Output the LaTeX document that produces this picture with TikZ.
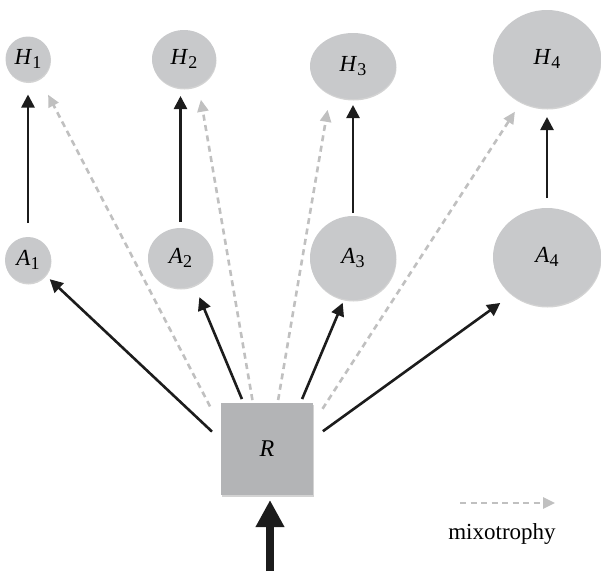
\documentclass[tikz,border=0pt]{standalone}
\usepackage{fontspec}
\setmainfont{Liberation Serif}
\usetikzlibrary{arrows.meta,shapes.geometric,shadows}
\definecolor{nodegray}{RGB}{200,201,203}
\definecolor{boxgray}{RGB}{179,180,182}
\definecolor{dashgray}{RGB}{192,192,192}
\definecolor{arrowdark}{RGB}{28,28,28}
\newcommand{\lbl}[2]{\textit{#1}\raisebox{-4.5pt}{\fontsize{18}{18}\selectfont #2}}
\begin{document}
\begin{tikzpicture}[x=1pt,y=-1pt,
  org/.style={ellipse, fill=nodegray, inner sep=0pt, outer sep=0pt,
    drop shadow={opacity=0.35, shadow xshift=0.5pt, shadow yshift=-1.5pt},
    font=\fontsize{23}{23}\selectfont},
  resbox/.style={rectangle, fill=boxgray, inner sep=0pt, outer sep=0pt,
    minimum size=92pt,
    drop shadow={opacity=0.35, shadow xshift=0.5pt, shadow yshift=-1.5pt},
    font=\fontsize{24}{24}\selectfont},
  feed/.style={draw=arrowdark, line width=2.6pt,
    -{Triangle[length=13pt,width=13pt]}},
  mixo/.style={draw=dashgray, line width=2.6pt, dash pattern=on 6pt off 4.5pt,
    -{Triangle[length=12pt,width=11pt,fill=dashgray]}},
  bigarrow/.style={draw=arrowdark, line width=8pt,
    -{Triangle[length=27pt,width=27pt]}}
]
\useasboundingbox (0,0) rectangle (601,571);

% nodes
\node[org, minimum width=45pt, minimum height=45pt] (H1) at (28,59) {\lbl{H}{1}};
\node[org, minimum width=64pt, minimum height=58pt] (H2) at (184,59) {\lbl{H}{2}};
\node[org, minimum width=86pt, minimum height=66pt] (H3) at (353,66) {\lbl{H}{3}};
\node[org, minimum width=108pt, minimum height=98pt] (H4) at (547,59) {\lbl{H}{4}};
\node[org, minimum width=46pt, minimum height=46pt] (A1) at (28,260) {\lbl{A}{1}};
\node[org, minimum width=65pt, minimum height=60pt] (A2) at (180.5,258) {\lbl{A}{2}};
\node[org, minimum width=86pt, minimum height=84pt] (A3) at (353,258) {\lbl{A}{3}};
\node[org, minimum width=108pt, minimum height=98pt] (A4) at (547,257) {\lbl{A}{4}};
\node[resbox] (R) at (267,449) {\textit{R}};

% grazing arrows
\draw[feed, shorten <=14pt, shorten >=13pt] (A1.north) -- (H1.south);
\draw[feed, shorten <=6pt, shorten >=8pt] (A2.north) -- (A2.north |- H2.south);
\draw[feed, shorten <=3pt, shorten >=6pt] (A3.north) -- (H3.south);
\draw[feed, shorten <=10pt, shorten >=9pt] (A4.north) -- (H4.south);

% resource uptake
\draw[feed, shorten <=12.4pt, shorten >=6pt] (R.169.5) -- (A1.-41);
\draw[feed, shorten <=4.3pt, shorten >=13pt] (R.117) -- (A2.-63.4);
\draw[feed, shorten <=4.3pt, shorten >=4pt] (R.54.1) -- (A3.-102);
\draw[feed, shorten <=12.2pt, shorten >=14.6pt] (R.13.4) -- (A4.-133.2);

% mixotrophy
\draw[mixo, shorten <=23.8pt, shorten >=18.5pt] (R.155.3) -- (H1.-59.9);
\draw[mixo, shorten <=3pt, shorten >=15pt] (R.107.8) -- (H2.-61.9);
\draw[mixo, shorten <=3pt, shorten >=16pt] (R.77.9) -- (H3.-129);
\draw[mixo, shorten <=17.5pt, shorten >=11.5pt] (R.29.5) -- (H4.-121.3);

% input
\coordinate (src) at (270,571);
\draw[bigarrow, shorten >=5pt] (src) -- (src |- R.south);

% legend
\coordinate (lgA) at (460,503);
\coordinate (lgB) at (555,503);
\draw[mixo] (lgA) -- (lgB);
\node[anchor=base, inner sep=0pt, font=\fontsize{23}{23}\selectfont] (lgT) at (502,539) {mixotrophy};
\end{tikzpicture}
\end{document}
